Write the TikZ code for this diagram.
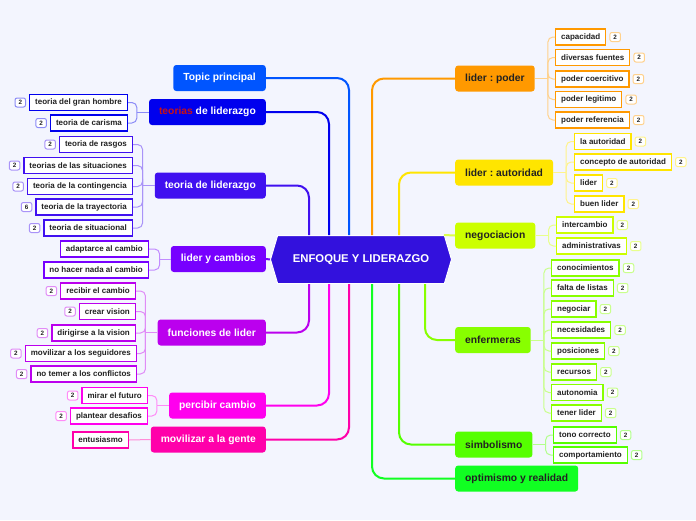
\documentclass[tikz,border=0pt]{standalone}
\usepackage{fontspec}
\setmainfont{Liberation Sans}
\frenchspacing
\usetikzlibrary{positioning,shapes.symbols}
\definecolor{bgcol}{HTML}{F3F5FE}
\definecolor{hubcol}{HTML}{3311DD}
\definecolor{topiccol}{HTML}{0055FF}
\definecolor{teocol}{HTML}{0000EE}
\definecolor{teotwocol}{HTML}{4010F0}
\definecolor{cambcol}{HTML}{7700FF}
\definecolor{funccol}{HTML}{BB00EE}
\definecolor{perccol}{HTML}{FF00EE}
\definecolor{movcol}{HTML}{FF00AA}
\definecolor{podcol}{HTML}{FF9900}
\definecolor{autcol}{HTML}{FFE500}
\definecolor{negcol}{HTML}{CCFF00}
\definecolor{enfcol}{HTML}{88FF00}
\definecolor{simcol}{HTML}{55FF00}
\definecolor{optcol}{HTML}{11FF22}
\definecolor{redword}{HTML}{CC1111}
\definecolor{ink}{HTML}{222222}
\tikzset{
  topic/.style={fill=#1, rounded corners=3pt, minimum height=26pt, inner xsep=10pt, inner ysep=0pt, font=\bfseries\fontsize{10.3}{12}\selectfont},
  ltopic/.style={topic=#1, text=white, anchor=east},
  rtopic/.style={topic=#1, text=ink, anchor=west},
  leaf/.style={draw=#1, fill=white, line width=1.3pt, minimum height=16pt, inner xsep=5.5pt, inner ysep=0pt, text=ink, font=\bfseries\fontsize{8}{9}\selectfont},
  badge/.style={draw=#1!45, fill=white, rounded corners=2pt, line width=1pt, minimum width=10.5pt, minimum height=9pt, inner sep=0pt, text=ink, font=\bfseries\fontsize{6.3}{6.3}\selectfont},
  brace/.style={draw=#1!45, line width=1pt, rounded corners=5pt},
  trunk/.style={draw=#1, line width=2pt, rounded corners=12pt},
}

\begin{document}
\begin{tikzpicture}[x=1pt,y=-1pt]
\fill[bgcol] (0,0) rectangle (696,520);
\useasboundingbox (0,0) rectangle (696,520);
% centre
\node (c) [signal, signal to=east and west, signal pointer angle=147, fill=hubcol, draw=white, line width=1pt, minimum width=181pt, minimum height=48pt, text=white, font=\bfseries\fontsize{11.3}{13}\selectfont] at (361,259.5) {ENFOQUE Y LIDERAZGO};
%
% left topics
\node (tp) [ltopic=topiccol] at (266,78) {Topic principal};
\node (tdl) [ltopic=teocol] at (266,112) {\textcolor{redword}{teorias} de liderazgo};
\node (tl) [ltopic=teotwocol] at (266,185.5) {teoria de liderazgo};
\node (lc) [ltopic=cambcol] at (266,259) {lider y cambios};
\node (fl) [ltopic=funccol] at (266,332.5) {funciones de lider};
\node (pc) [ltopic=perccol] at (266,405.5) {percibir cambio};
\node (mg) [ltopic=movcol] at (266,439.5) {movilizar a la gente};
% right topics
\node (lp) [rtopic=podcol] at (455,78.5) {lider : poder};
\node (la) [rtopic=autcol] at (455,172.5) {lider : autoridad};
\node (ng) [rtopic=negcol] at (455,235.5) {negociacion};
\node (en) [rtopic=enfcol] at (455,340) {enfermeras};
\node (sb) [rtopic=simcol] at (455,444.5) {simbolismo};
\node (op) [rtopic=optcol] at (455,478.5) {optimismo y realidad};
%
% trunks
\draw[trunk=topiccol] (tp.east) -| ([xshift=-12pt]c.north);
\draw[trunk=teocol] (tdl.east) -| ([xshift=-32pt]c.north);
\draw[trunk=teotwocol] (tl.east) -| ([xshift=-52pt]c.north);
\draw[trunk=cambcol] (lc.east) -- (c.west);
\draw[trunk=funccol] (fl.east) -| ([xshift=-52pt]c.south);
\draw[trunk=perccol] (pc.east) -| ([xshift=-32pt]c.south);
\draw[trunk=movcol] (mg.east) -| ([xshift=-12pt]c.south);
\draw[trunk=podcol] (lp.west) -| ([xshift=11pt]c.north);
\draw[trunk=autcol] (la.west) -| ([xshift=38pt]c.north);
\draw[trunk=negcol!70] (ng.west) -- ([xshift=83pt]c.north);
\draw[trunk=enfcol] (en.west) -| ([xshift=64pt]c.south);
\draw[trunk=simcol] (sb.west) -| ([xshift=38pt]c.south);
\draw[trunk=optcol] (op.west) -| ([xshift=11pt]c.south);
%
% teorias de liderazgo
\node (gh) [leaf=teocol, anchor=east] at (128,102.5) {teoria del gran hombre};
\node (ca) [leaf=teocol, anchor=east] at (128,123) {teoria de carisma};
\node [badge=teocol, left=3pt of gh] {2};
\node [badge=teocol, left=3pt of ca] {2};
\coordinate (tdlb) at ([xshift=-12pt]tdl.west);
\draw[brace=teocol] (tdl.west) -- (tdlb);
\draw[brace=teocol] (tdlb) |- (gh.east);
\draw[brace=teocol] (tdlb) |- (ca.east);
%
% teoria de liderazgo
\node (ra) [leaf=teotwocol, anchor=east] at (133,144.5) {teoria de rasgos};
\node (si) [leaf=teotwocol, anchor=east] at (133,165.5) {teorias de las situaciones};
\node (co) [leaf=teotwocol, anchor=east] at (133,186.5) {teoria de la contingencia};
\node (tr) [leaf=teotwocol, anchor=east] at (133,207) {teoria de la trayectoria};
\node (su) [leaf=teotwocol, anchor=east] at (133,228) {teoria de situacional};
\node [badge=teotwocol, left=3pt of ra] {2};
\node [badge=teotwocol, left=3pt of si] {2};
\node [badge=teotwocol, left=3pt of co] {2};
\node [badge=teotwocol, left=3pt of tr] {6};
\node [badge=teotwocol, left=3pt of su] {2};
\coordinate (tlb) at ([xshift=-12pt]tl.west);
\draw[brace=teotwocol] (tl.west) -- (tlb);
\draw[brace=teotwocol] (tlb) |- (ra.east);
\draw[brace=teotwocol] (tlb) |- (si.east);
\draw[brace=teotwocol] (tlb) |- (co.east);
\draw[brace=teotwocol] (tlb) |- (tr.east);
\draw[brace=teotwocol] (tlb) |- (su.east);
%
% lider y cambios
\node (ad) [leaf=cambcol, anchor=east] at (149,249) {adaptarce al cambio};
\node (nh) [leaf=cambcol, anchor=east] at (149,270) {no hacer nada al cambio};
\coordinate (lcb) at ([xshift=-11pt]lc.west);
\draw[brace=cambcol] (lc.west) -- (lcb);
\draw[brace=cambcol] (lcb) |- (ad.east);
\draw[brace=cambcol] (lcb) |- (nh.east);
%
% funciones de lider
\node (rc) [leaf=funccol, anchor=east] at (136,291) {recibir el cambio};
\node (cv) [leaf=funccol, anchor=east] at (136,311.5) {crear vision};
\node (dv) [leaf=funccol, anchor=east] at (136,333) {dirigirse a la vision};
\node (ms) [leaf=funccol, anchor=east] at (137,353.5) {movilizar a los seguidores};
\node (nt) [leaf=funccol, anchor=east] at (137,374) {no temer a los conflictos};
\node [badge=funccol, left=3pt of rc] {2};
\node [badge=funccol, left=3pt of cv] {2};
\node [badge=funccol, left=3pt of dv] {2};
\node [badge=funccol, left=3pt of ms] {2};
\node [badge=funccol, left=3pt of nt] {2};
\coordinate (flb) at ([xshift=-12pt]fl.west);
\draw[brace=funccol] (fl.west) -- (flb);
\draw[brace=funccol] (flb) |- (rc.east);
\draw[brace=funccol] (flb) |- (cv.east);
\draw[brace=funccol] (flb) |- (dv.east);
\draw[brace=funccol] (flb) |- (ms.east);
\draw[brace=funccol] (flb) |- (nt.east);
%
% percibir cambio
\node (mf) [leaf=perccol, anchor=east] at (148,395.5) {mirar el futuro};
\node (pd) [leaf=perccol, anchor=east] at (148,416) {plantear desafios};
\node [badge=perccol, left=3pt of mf] {2};
\node [badge=perccol, left=3pt of pd] {2};
\coordinate (pcb) at ([xshift=-12pt]pc.west);
\draw[brace=perccol] (pc.west) -- (pcb);
\draw[brace=perccol] (pcb) |- (mf.east);
\draw[brace=perccol] (pcb) |- (pd.east);
%
% movilizar a la gente
\node (et) [leaf=movcol, anchor=east] at (129,440) {entusiasmo};
\draw[brace=movcol] (mg.west) -- (et.east);
%
% lider : poder
\node (cp) [leaf=podcol, anchor=west] at (555,37) {capacidad};
\node (df) [leaf=podcol, anchor=west] at (555,57.5) {diversas fuentes};
\node (pco) [leaf=podcol, anchor=west] at (555,79) {poder coercitivo};
\node (pl) [leaf=podcol, anchor=west] at (555,99.5) {poder legitimo};
\node (pr) [leaf=podcol, anchor=west] at (555,120) {poder referencia};
\node [badge=podcol, right=3pt of cp] {2};
\node [badge=podcol, right=3pt of df] {2};
\node [badge=podcol, right=3pt of pco] {2};
\node [badge=podcol, right=3pt of pl] {2};
\node [badge=podcol, right=3pt of pr] {2};
\coordinate (lpb) at ([xshift=13pt]lp.east);
\draw[brace=podcol] (lp.east) -- (lpb);
\draw[brace=podcol] (lpb) |- (cp.west);
\draw[brace=podcol] (lpb) |- (df.west);
\draw[brace=podcol] (lpb) |- (pco.west);
\draw[brace=podcol] (lpb) |- (pl.west);
\draw[brace=podcol] (lpb) |- (pr.west);
%
% lider : autoridad
\node (au) [leaf=autcol, anchor=west] at (574,141.5) {la autoridad};
\node (ct) [leaf=autcol, anchor=west] at (574,162) {concepto de autoridad};
\node (ld) [leaf=autcol, anchor=west] at (574,183) {lider};
\node (bl) [leaf=autcol, anchor=west] at (574,204) {buen lider};
\node [badge=autcol, right=3pt of au] {2};
\node [badge=autcol, right=3pt of ct] {2};
\node [badge=autcol, right=3pt of ld] {2};
\node [badge=autcol, right=3pt of bl] {2};
\coordinate (lab) at ([xshift=13pt]la.east);
\draw[brace=autcol] (la.east) -- (lab);
\draw[brace=autcol] (lab) |- (au.west);
\draw[brace=autcol] (lab) |- (ct.west);
\draw[brace=autcol] (lab) |- (ld.west);
\draw[brace=autcol] (lab) |- (bl.west);
%
% negociacion
\node (ic) [leaf=negcol, anchor=west] at (556,225) {intercambio};
\node (am) [leaf=negcol, anchor=west] at (556,246) {administrativas};
\node [badge=negcol, right=3pt of ic] {2};
\node [badge=negcol, right=3pt of am] {2};
\coordinate (ngb) at ([xshift=13pt]ng.east);
\draw[brace=negcol] (ng.east) -- (ngb);
\draw[brace=negcol] (ngb) |- (ic.west);
\draw[brace=negcol] (ngb) |- (am.west);
%
% enfermeras
\node (cn) [leaf=enfcol, anchor=west] at (551,268) {conocimientos};
\node (fa) [leaf=enfcol, anchor=west] at (551,288) {falta de listas};
\node (ne) [leaf=enfcol, anchor=west] at (551,309) {negociar};
\node (nc) [leaf=enfcol, anchor=west] at (551,330) {necesidades};
\node (po) [leaf=enfcol, anchor=west] at (551,351) {posiciones};
\node (re) [leaf=enfcol, anchor=west] at (551,372) {recursos};
\node (at) [leaf=enfcol, anchor=west] at (551,392.5) {autonomia};
\node (tn) [leaf=enfcol, anchor=west] at (551,413) {tener lider};
\node [badge=enfcol, right=3pt of cn] {2};
\node [badge=enfcol, right=3pt of fa] {2};
\node [badge=enfcol, right=3pt of ne] {2};
\node [badge=enfcol, right=3pt of nc] {2};
\node [badge=enfcol, right=3pt of po] {2};
\node [badge=enfcol, right=3pt of re] {2};
\node [badge=enfcol, right=3pt of at] {2};
\node [badge=enfcol, right=3pt of tn] {2};
\coordinate (enb) at ([xshift=13pt]en.east);
\draw[brace=enfcol] (en.east) -- (enb);
\draw[brace=enfcol] (enb) |- (cn.west);
\draw[brace=enfcol] (enb) |- (fa.west);
\draw[brace=enfcol] (enb) |- (ne.west);
\draw[brace=enfcol] (enb) |- (nc.west);
\draw[brace=enfcol] (enb) |- (po.west);
\draw[brace=enfcol] (enb) |- (re.west);
\draw[brace=enfcol] (enb) |- (at.west);
\draw[brace=enfcol] (enb) |- (tn.west);
%
% simbolismo
\node (tc) [leaf=simcol, anchor=west] at (553,435) {tono correcto};
\node (cm) [leaf=simcol, anchor=west] at (553,455) {comportamiento};
\node [badge=simcol, right=3pt of tc] {2};
\node [badge=simcol, right=3pt of cm] {2};
\coordinate (sbb) at ([xshift=13pt]sb.east);
\draw[brace=simcol] (sb.east) -- (sbb);
\draw[brace=simcol] (sbb) |- (tc.west);
\draw[brace=simcol] (sbb) |- (cm.west);
\end{tikzpicture}
\end{document}
